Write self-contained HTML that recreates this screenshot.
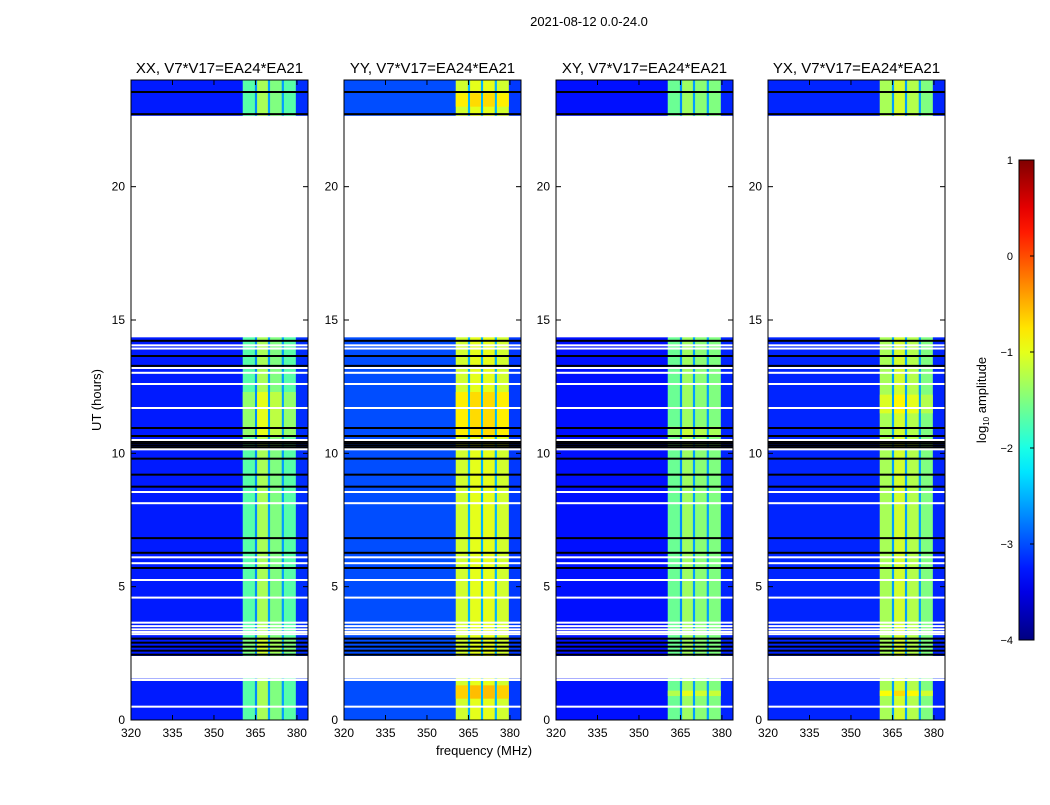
<!DOCTYPE html>
<html><head><meta charset="utf-8">
<style>
body{margin:0;background:#fff;}
svg text{font-family:"Liberation Sans",sans-serif;fill:#000;}
</style></head>
<body>
<svg id="fig" width="1050" height="800" xmlns="http://www.w3.org/2000/svg">
<rect width="1050" height="800" fill="#fff"/>
<text x="589" y="26" font-size="13" text-anchor="middle">2021-08-12 0.0-24.0</text>
<text x="484" y="755" font-size="13" text-anchor="middle">frequency (MHz)</text>
<text x="0" y="0" font-size="13" text-anchor="middle" transform="translate(101,400) rotate(-90)">UT (hours)</text>
<g id="panels"></g>
<g id="cbar"></g>
</svg>
<script>
// ---- data ----
const titles = ["XX, V7*V17=EA24*EA21","YY, V7*V17=EA24*EA21","XY, V7*V17=EA24*EA21","YX, V7*V17=EA24*EA21"];
const bandEdges = [320,360.4,364.8,365.6,369.5,370.3,374.5,375.3,379.6,384];
const levelsXX = [-3.25,-1.7,-2.7,-1.3,-2.6,-1.5,-2.6,-1.7,-3.15];
const levelsYY = [-3.0,-1.1,-2.5,-1.0,-2.5,-1.0,-2.5,-1.1,-3.1];
const levelsXY = [-3.3,-1.6,-2.7,-1.35,-2.6,-1.45,-2.6,-1.5,-3.2];
const levelsYX = [-3.2,-1.3,-2.6,-1.1,-2.6,-1.25,-2.6,-1.5,-3.2];
const dataSegments = [[0,1.55],[2.4,14.35],[22.6,24]];
const boostsXX = [[10.6,12.3,0.3],[2.5,3.1,0.2]];
const boostsYY = [[0.8,1.3,0.45],[10.6,12.3,0.3],[23.0,23.5,0.3]];
const boostsXY = [[10.6,11.0,0.2],[0.9,1.1,0.35]];
const boostsYX = [[11.5,12.2,0.25],[0.9,1.1,0.4]];
const blackLines = [23.55,22.72,14.22,13.65,13.28,10.95,10.65,10.45,10.38,10.3,10.22,9.8,9.2,8.75,6.82,6.27,5.7,3.05,2.9,2.75,2.6,2.45];
const whiteLines = [22.62,14.05,13.93,13.2,13.02,12.6,11.7,10.5,10.15,8.55,8.13,6.1,5.88,5.25,4.59,3.65,3.52,3.4,3.3,3.22,1.5,0.5];
const yTicks = [0,5,10,15,20];
const xTicks = [320,335,350,365,380];
const cbTicks = [1,0,-1,-2,-3,-4];
const allLevels = [levelsXX,levelsYY,levelsXY,levelsYX];
const allBoosts = [boostsXX,boostsYY,boostsXY,boostsYX];

// ---- layout ----
const NS="http://www.w3.org/2000/svg";
const panelX=[131,344,556,768], PW=177, PT=80, PH=640;
const vmin=-4, vmax=1;
function jet(v){
  let t=(v-vmin)/(vmax-vmin); t=Math.max(0,Math.min(1,t));
  const c=x=>Math.round(255*Math.max(0,Math.min(1,x)));
  return `rgb(${c(1.5-Math.abs(4*t-3))},${c(1.5-Math.abs(4*t-2))},${c(1.5-Math.abs(4*t-1))})`;
}
function el(tag,attrs,parent){const e=document.createElementNS(NS,tag);for(const k in attrs)e.setAttribute(k,attrs[k]);parent.appendChild(e);return e;}
const panels=document.getElementById('panels');


for(let p=0;p<4;p++){
  const x0=panelX[p];
  const xs=f=>x0+(f-320)/(384-320)*PW;
  const ys=h=>PT+PH-h/24*PH;
  const g=el('g',{},panels);
  
  
  const lv=allLevels[p];
  for(const seg of dataSegments){
    for(let b=0;b<lv.length;b++){
      const r=el('rect',{x:xs(bandEdges[b]),y:ys(seg[1]),width:xs(bandEdges[b+1])-xs(bandEdges[b])+0.3,height:ys(seg[0])-ys(seg[1]),fill:jet(lv[b])},g);
      
      
    }
  }
  for(const bo of allBoosts[p]){
    for(let b=1;b<lv.length-1;b++){
      if(b%2===0) continue;
      const r=el('rect',{x:xs(bandEdges[b]),y:ys(bo[1]),width:xs(bandEdges[b+1])-xs(bandEdges[b]),height:ys(bo[0])-ys(bo[1]),fill:jet(lv[b]+bo[2])},g);
      
      
    }
  }
  for(const t of blackLines){
    const r=el('rect',{x:x0,y:ys(t)-1,width:PW,height:2,fill:'#000'},g);
    
    
  }
  for(const t of whiteLines){
    const r=el('rect',{x:x0,y:ys(t)-1,width:PW,height:2,fill:'#fff'},g);
    
    
  }
  const fr=el('rect',{x:x0,y:PT,width:PW,height:PH,fill:'none',stroke:'#000','stroke-width':1},g);
  
  
  const tt=el('text',{x:x0+PW/2,y:73,'font-size':15,'text-anchor':'middle'},g);
  tt.textContent=titles[p];
  
  
  for(const v of yTicks){
    const y=ys(v);
    el('line',{x1:x0,x2:x0+5,y1:y,y2:y,stroke:'#000'},g);
    el('line',{x1:x0+PW-5,x2:x0+PW,y1:y,y2:y,stroke:'#000'},g);
    const t=el('text',{x:x0-6,y:y+4,'font-size':12,'text-anchor':'end'},g);
    t.textContent=v;
    
    
  }
  for(const v of xTicks){
    const x=xs(v);
    el('line',{x1:x,x2:x,y1:PT+PH,y2:PT+PH-5,stroke:'#000'},g);
    el('line',{x1:x,x2:x,y1:PT,y2:PT+5,stroke:'#000'},g);
    const t=el('text',{x:x,y:PT+PH+17,'font-size':12,'text-anchor':'middle'},g);
    t.textContent=v;
    
    
  }
}
// colorbar
const cb=document.getElementById('cbar');
const CX=1019,CW=15,CT=160,CH=480;
const defs=el('defs',{},cb);
const grad=el('linearGradient',{id:'jetg',x1:0,y1:1,x2:0,y2:0},defs);
for(let i=0;i<=20;i++){const v=vmin+(vmax-vmin)*i/20;el('stop',{offset:i/20,'stop-color':jet(v)},grad);}
el('rect',{x:CX,y:CT,width:CW,height:CH,fill:'url(#jetg)',stroke:'#000'},cb);
const cys=v=>CT+(vmax-v)/(vmax-vmin)*CH;
for(const v of cbTicks){
  const y=cys(v);
  el('line',{x1:CX+CW-4,x2:CX+CW,y1:y,y2:y,stroke:'#000'},cb);
  const t=el('text',{x:CX-6,y:y+4,'font-size':11,'text-anchor':'end'},cb);
  t.textContent=v<0?'\u2212'+(-v):String(v);
  
  
}
const cl=el('text',{'font-size':13,'text-anchor':'middle',transform:'translate(986,400) rotate(-90)'},cb);
cl.innerHTML='log<tspan font-size="8" dy="3">10</tspan><tspan dy="-3"> amplitude</tspan>';


</script>
</body></html>
